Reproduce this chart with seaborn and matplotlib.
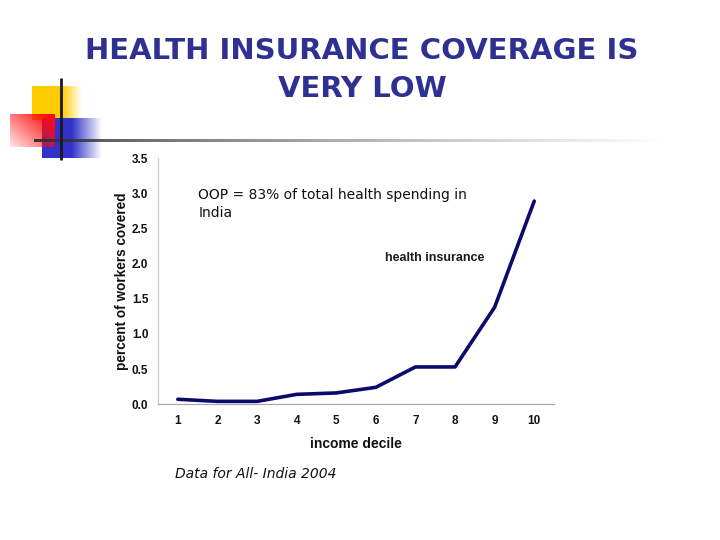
import numpy as np
import pandas as pd
import matplotlib
matplotlib.use("Agg")
import matplotlib.pyplot as plt
import seaborn as sns

# 데이터
deciles = [1, 2, 3, 4, 5, 6, 7, 8, 9, 10]
coverage = [0.07, 0.04, 0.04, 0.14, 0.16, 0.24, 0.53, 0.53, 1.38, 2.89]
y_ticks = [0.0, 0.5, 1.0, 1.5, 2.0, 2.5, 3.0, 3.5]

title_text = "HEALTH INSURANCE COVERAGE IS\nVERY LOW"
note_text = "OOP = 83% of total health spending in\nIndia"
series_label = "health insurance"
source_text = "Data for All- India 2004"

sns.set_theme(style="white")
plt.rcParams['font.family'] = ['DejaVu Sans']

fig = plt.figure(figsize=(7.2, 5.4), dpi=100)

# 배경 장식 (픽셀 좌표)
bg = fig.add_axes([0, 0, 1, 1])
bg.set_xlim(0, 720)
bg.set_ylim(540, 0)
bg.axis('off')


def gradient_box(ax, x0, x1, y0, y1, rgb, alpha_fn, z):
    u = np.linspace(0, 1, 200)
    v = np.linspace(0, 1, 200)
    U, V = np.meshgrid(u, v)
    img = np.zeros((200, 200, 4))
    img[..., 0], img[..., 1], img[..., 2] = rgb
    img[..., 3] = np.clip(alpha_fn(U, V), 0, 1)
    ax.imshow(img, extent=(x0, x1, y1, y0), aspect='auto', zorder=z, interpolation='bilinear')


# 노란 사각형
gradient_box(bg, 32, 82, 86, 120, (1.0, 0.8, 0.0),
             lambda U, V: np.where(U < 0.6, 1.0, 1 - (U - 0.6) / 0.4), 1)
# 파란 사각형
gradient_box(bg, 42, 102, 118, 158, (0.2, 0.2, 0.8),
             lambda U, V: np.where(U < 0.5, 1.0, 1 - (U - 0.5) / 0.5), 2)
# 빨간 사각형
gradient_box(bg, 10, 55, 114, 147, (1.0, 0.05, 0.05),
             lambda U, V: 0.1 + 0.55 * U + 0.45 * (1 - V), 3)

# 가로선 (그라데이션)
gradient_box(bg, 34, 668, 139.8, 142.2, (0.2, 0.2, 0.2),
             lambda U, V: 1 - U ** 0.7, 4)
# 세로선
bg.plot([61, 61], [78, 160], color='#1a1a1a', lw=2, zorder=5, solid_capstyle='butt')

fig.text(0.503, 1 - 70 / 540, title_text, ha='center', va='center', fontsize=21,
         fontweight='bold', color='#2E3192', linespacing=1.45)

# 차트
ax = fig.add_axes([0.2195, 0.2515, 0.550, 0.4555])
df = pd.DataFrame({'decile': deciles, 'coverage': coverage})
sns.lineplot(data=df, x='decile', y='coverage', ax=ax, color='#0B0B6E', lw=2.6)

ax.set_xlim(0.5, 10.5)
ax.set_ylim(0, 3.5)
ax.set_yticks(y_ticks)
ax.set_yticklabels([f"{t:.1f}" for t in y_ticks], fontsize=8.5, fontweight='bold',
                   family='Liberation Sans', color='#111111')
ax.set_xticks(deciles)
ax.set_xticklabels([str(d) for d in deciles], fontsize=8.5, fontweight='bold',
                   family='Liberation Sans', color='#111111')
ax.set_xticks(np.arange(0.5, 11, 1), minor=True)
ax.tick_params(axis='x', which='major', length=0, pad=8)
ax.tick_params(axis='x', which='minor', length=4, width=0.8, color='#aaaaaa', direction='out')
ax.tick_params(axis='y', which='major', length=4, width=0.8, color='#cccccc', direction='out', pad=3)
ax.grid(False)
for s in ['top', 'right']:
    ax.spines[s].set_visible(False)
ax.spines['left'].set_color('#cccccc')
ax.spines['bottom'].set_color('#aaaaaa')
ax.spines['left'].set_linewidth(0.9)
ax.spines['bottom'].set_linewidth(0.9)

ax.set_xlabel('income decile', fontsize=10, fontweight='bold', family='Liberation Sans',
              labelpad=7, color='#111111')
ax.set_ylabel('percent of workers covered', fontsize=9.8, fontweight='bold',
              family='Liberation Sans', labelpad=2, color='#111111')

ax.text(7.49, 2.08, series_label, fontsize=9, fontweight='bold', family='Liberation Sans',
        ha='center', va='center', color='#1a1a1a')
ax.text(1.52, 3.08, note_text, fontsize=10, ha='left', va='top', color='#111111',
        linespacing=1.4)

fig.text(175 / 720, 1 - 474 / 540, source_text, fontsize=10, style='italic',
         ha='left', va='center', color='#111111')

fig.savefig('out.png', dpi=100)
